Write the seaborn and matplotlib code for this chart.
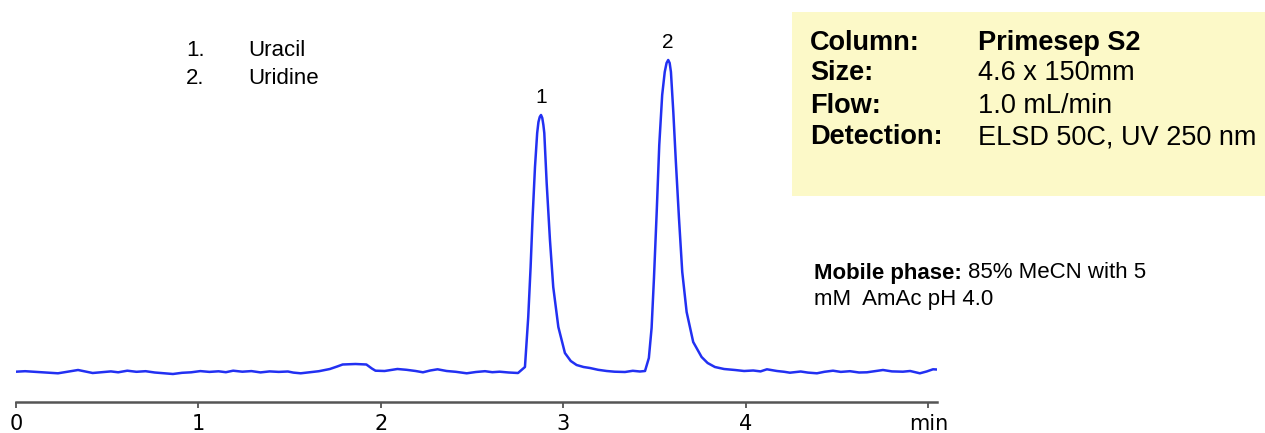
import matplotlib
matplotlib.use("Agg")
import matplotlib.pyplot as plt
import matplotlib.patches as mpatches
import seaborn as sns
import pandas as pd

# chromatogram trace (time in min, detector signal)
time_min = [0.00, 0.05, 0.10, 0.15, 0.20, 0.23, 0.28, 0.34, 0.38, 0.42,
            0.47, 0.52, 0.56, 0.61, 0.66, 0.71, 0.76, 0.81, 0.86, 0.91,
            0.96, 1.01, 1.06, 1.11, 1.15, 1.19, 1.24, 1.29, 1.34, 1.39,
            1.44, 1.49, 1.52, 1.56, 1.61, 1.66, 1.72, 1.76, 1.79, 1.86,
            1.92, 1.95, 1.97, 2.02, 2.09, 2.14, 2.19, 2.23, 2.27, 2.31,
            2.36, 2.41, 2.47, 2.52, 2.57, 2.61, 2.65, 2.70, 2.751, 2.789,
            2.807, 2.820, 2.831, 2.844, 2.856, 2.863, 2.870, 2.877, 2.884, 2.890,
            2.895, 2.908, 2.926, 2.944, 2.972, 3.008, 3.040, 3.072, 3.110, 3.145,
            3.19, 3.237, 3.28, 3.337, 3.38, 3.419, 3.447, 3.468, 3.483, 3.496,
            3.511, 3.525, 3.541, 3.555, 3.565, 3.574, 3.582, 3.589, 3.602, 3.616,
            3.633, 3.651, 3.675, 3.711, 3.757, 3.790, 3.830, 3.880, 3.940, 3.99,
            4.04, 4.08, 4.115, 4.17, 4.21, 4.241, 4.30, 4.34, 4.389, 4.43,
            4.477, 4.52, 4.57, 4.62, 4.663, 4.71, 4.751, 4.80, 4.860, 4.90,
            4.953, 4.99, 5.025, 5.047]
signal = [0.3, 0.8, 0.2, -0.5, -1.0, -1.3, 0.2, 2.0, 0.5, -1.0,
          -0.2, 0.6, -0.3, 1.3, 0.2, 0.8, -0.5, -1.2, -2.0, -0.8,
          -0.3, 0.9, 0.1, 0.7, -0.2, 1.3, 0.3, 0.9, -0.4, 0.6,
          0.1, 0.5, -0.6, -1.3, -0.2, 0.8, 3.0, 5.5, 7.5, 8.0,
          7.5, 3.5, 1.3, 1.0, 3.0, 2.2, 1.0, -0.3, 1.5, 2.7,
          1.0, 0.2, -1.3, 0.0, 0.8, -0.2, 0.3, -0.5, -1.0, 5.0,
          55.0, 105.0, 155.0, 205.0, 239.0, 250.0, 255.0, 257.0, 254.0, 247.0,
          239.0, 189.0, 132.0, 85.0, 45.0, 19.0, 11.0, 7.0, 5.0, 4.0,
          2.2, 1.0, 0.3, 0.0, 1.2, 0.5, 1.0, 14.0, 44.0, 94.0,
          160.0, 227.0, 277.0, 300.0, 309.0, 312.0, 309.0, 300.0, 260.0, 210.0,
          154.0, 100.0, 60.0, 30.0, 15.0, 9.0, 5.0, 3.0, 2.0, 1.0,
          1.5, 0.6, 2.7, 1.0, 0.2, -0.7, 0.5, -0.6, -1.3, 0.2,
          1.3, 0.1, 0.8, -0.5, -0.3, 0.9, 2.0, 0.6, 0.3, 1.0,
          -1.3, 0.5, 2.7, 2.5]

peak_numbers = ["1", "2"]
peak_times = [2.877, 3.574]
peak_heights = [257.0, 312.0]
compounds = ["Uracil", "Uridine"]

tick_values = [0, 1, 2, 3, 4, 5]
tick_labels = ["0", "1", "2", "3", "4", "min"]

conditions = [("Column:", "Primesep S2"),
              ("Size:", "4.6 x 150mm"),
              ("Flow:", "1.0 mL/min"),
              ("Detection:", "ELSD 50C, UV 250 nm")]

df = pd.DataFrame({"time": time_min, "signal": signal})

sns.set_style("white")
plt.rcParams["font.family"] = ["Liberation Sans", "DejaVu Sans"]
plt.rcParams["text.color"] = "black"
plt.rcParams["xtick.color"] = "black"

W, H = 1265, 433
fig = plt.figure(figsize=(W / 100, H / 100), dpi=100)


def fx(px):
    return px / W


def fy(py):
    return 1 - py / H


ax = fig.add_axes([fx(16), fy(402), fx(937) - fx(16), fy(0) - fy(402)])
ax.patch.set_alpha(0)

sns.lineplot(data=df, x="time", y="signal", ax=ax, color="#2230f2",
             linewidth=1.8, estimator=None, sort=False)

ax.set_xlim(0, 5.047)
ax.set_ylim(-30, 372)
ax.set_xlabel("")
ax.set_ylabel("")
ax.set_yticks([])
ax.set_xticks(tick_values)
ax.set_xticklabels(tick_labels, family=["Liberation Sans Narrow", "DejaVu Sans"],
                   fontsize=15, color="black")
ax.tick_params(axis="x", direction="out", length=4, width=1.2, color="#444444",
               pad=5, bottom=True)
for side in ["top", "right", "left"]:
    ax.spines[side].set_visible(False)
ax.spines["bottom"].set_color("#555555")
ax.spines["bottom"].set_linewidth(1.8)

# peak numbers above the apexes
for num, t, h in zip(peak_numbers, peak_times, peak_heights):
    ax.text(t, h + 8, num, ha="center", va="bottom", fontsize=15)

# compound list
for i, (num, name) in enumerate(zip(peak_numbers, compounds)):
    y = 50 + 29 * i
    fig.text(fx(186), fy(y), num + ".", ha="left", va="center", fontsize=16)
    fig.text(fx(248), fy(y), name, ha="left", va="center", fontsize=16)

# conditions box
box = mpatches.Rectangle((fx(792), fy(196)), fx(1265) - fx(792), fy(12) - fy(196),
                         transform=fig.transFigure, facecolor="#fcf9c8",
                         edgecolor="none", zorder=0)
fig.patches.append(box)
row_y = [43, 73, 106, 137]
for (label, value), y in zip(conditions, row_y):
    fig.text(fx(810), fy(y), label, ha="left", va="center", fontsize=19.5,
             fontweight="bold")
    fig.text(fx(978), fy(y), value, ha="left", va="center", fontsize=19.5,
             fontweight="bold" if label == "Column:" else "normal")

# mobile phase note
fig.text(fx(814), fy(273), "Mobile phase:", ha="left", va="center", fontsize=16,
         fontweight="bold")
fig.text(fx(968), fy(273), "85% MeCN with 5", ha="left", va="center", fontsize=16)
fig.text(fx(814), fy(299), "mM  AmAc pH 4.0", ha="left", va="center", fontsize=16)

fig.savefig("out.png", dpi=100)
